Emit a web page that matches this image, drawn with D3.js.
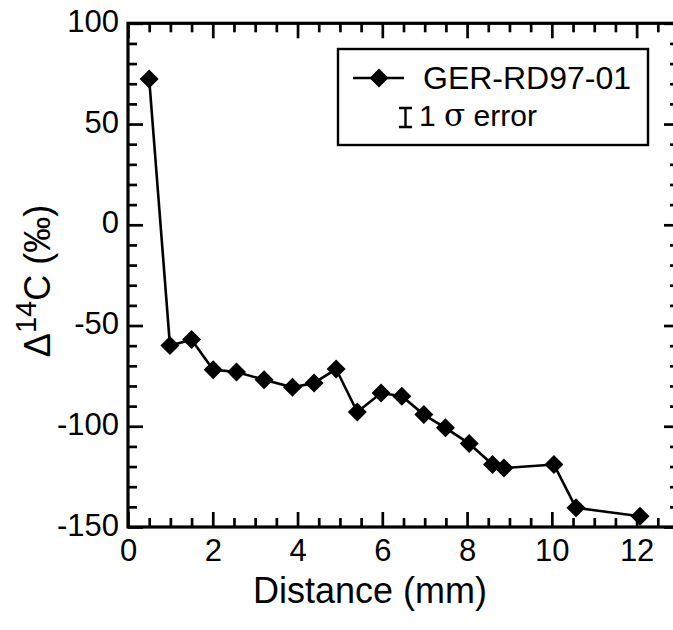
<!DOCTYPE html>
<html>
<head>
<meta charset="utf-8">
<script src="https://cdn.jsdelivr.net/npm/d3@7"></script>
<style>
  body { margin: 0; background: #fff; }
  svg { display: block; font-family: "Liberation Sans", Arial, Helvetica, sans-serif; }
</style>
</head>
<body>
<div id="chart"></div>
<script>
// sample GER-RD97-01
const distance = [0.5, 0.99, 1.5, 2.01, 2.56, 3.21, 3.88, 4.39, 4.91, 5.41,
                  5.97, 6.46, 6.98, 7.49, 8.05, 8.6, 8.87, 10.05, 10.57, 12.08];
const delta14C = [72.3, -59.9, -57.0, -71.9, -73.1, -76.9, -80.7, -78.5, -71.6, -92.9,
                  -83.5, -85.1, -94.2, -100.8, -108.6, -119.0, -120.7, -119.0, -140.5, -144.7];

const xMajor = [0, 2, 4, 6, 8, 10, 12];
const yMajor = [100, 50, 0, -50, -100, -150];
const seriesName = "GER-RD97-01";

const width = 673, height = 630;
const margin = { left: 128, top: 23.3, right: -6, bottom: 103 };

const svg = d3.select("#chart").append("svg")
    .attr("width", width)
    .attr("height", height);

const x = d3.scaleLinear().domain([0, 13]).range([margin.left, width - margin.right]);
const y = d3.scaleLinear().domain([-150, 100]).range([height - margin.bottom, margin.top]);

const xMinor = d3.range(0, 13.01, 0.5).filter(v => v % 2 !== 0);
const yMinor = d3.range(-150, 100.1, 10).filter(v => v % 50 !== 0);

// ticks, all pointing inwards
function tickStyle(g) {
  g.select(".domain").remove();
  g.selectAll(".tick line").attr("stroke", "#000").attr("stroke-width", 2.7);
  g.selectAll(".tick text")
    .attr("fill", "#000")
    .style("font-size", "31px");
}

const majorLen = 15, minorLen = 9;
const plain = d => String(d);   // hyphen minus like the original

svg.append("g").attr("transform", `translate(0,${y(-150)})`)
  .call(d3.axisBottom(x).tickValues(xMajor).tickFormat(plain).tickSizeInner(-majorLen).tickSizeOuter(0).tickPadding(12))
  .call(tickStyle);
svg.append("g").attr("transform", `translate(0,${y(-150)})`)
  .call(d3.axisBottom(x).tickValues(xMinor).tickSizeInner(-minorLen).tickSizeOuter(0).tickFormat(""))
  .call(tickStyle);

svg.append("g").attr("transform", `translate(0,${y(100)})`)
  .call(d3.axisTop(x).tickValues(xMajor).tickSizeInner(-majorLen).tickSizeOuter(0).tickFormat(""))
  .call(tickStyle);
svg.append("g").attr("transform", `translate(0,${y(100)})`)
  .call(d3.axisTop(x).tickValues(xMinor).tickSizeInner(-minorLen).tickSizeOuter(0).tickFormat(""))
  .call(tickStyle);

svg.append("g").attr("transform", `translate(${x(0)},0)`)
  .call(d3.axisLeft(y).tickValues(yMajor).tickFormat(plain).tickSizeInner(-majorLen).tickSizeOuter(0).tickPadding(9))
  .call(tickStyle)
  .call(g => g.selectAll(".tick text").attr("dy", "0.26em"));
svg.append("g").attr("transform", `translate(${x(0)},0)`)
  .call(d3.axisLeft(y).tickValues(yMinor).tickSizeInner(-minorLen).tickSizeOuter(0).tickFormat(""))
  .call(tickStyle);

svg.append("g").attr("transform", `translate(${x(13)},0)`)
  .call(d3.axisRight(y).tickValues(yMajor).tickSizeInner(-majorLen).tickSizeOuter(0).tickFormat(""))
  .call(tickStyle);
svg.append("g").attr("transform", `translate(${x(13)},0)`)
  .call(d3.axisRight(y).tickValues(yMinor).tickSizeInner(-minorLen).tickSizeOuter(0).tickFormat(""))
  .call(tickStyle);

// frame
svg.append("rect")
  .attr("x", x(0)).attr("y", y(100))
  .attr("width", x(13) - x(0)).attr("height", y(-150) - y(100))
  .attr("fill", "none").attr("stroke", "#000").attr("stroke-width", 3.2);

// data
const pts = distance.map((d, i) => ({ x: d, y: delta14C[i] }));
const diamond = "M0,-9.5L9.5,0L0,9.5L-9.5,0Z";

svg.append("path")
  .datum(pts)
  .attr("fill", "none")
  .attr("stroke", "#000")
  .attr("stroke-width", 2.6)
  .attr("d", d3.line().x(d => x(d.x)).y(d => y(d.y)));

svg.append("g").selectAll("path")
  .data(pts)
  .join("path")
    .attr("d", diamond)
    .attr("transform", d => `translate(${x(d.x)},${y(d.y)})`)
    .attr("fill", "#000");

// axis titles
svg.append("text")
  .attr("x", 370)
  .attr("y", 603)
  .attr("text-anchor", "middle")
  .style("font-size", "36px")
  .text("Distance (mm)");

const yTitle = svg.append("text")
  .attr("transform", "translate(50,281)rotate(-90)")
  .attr("text-anchor", "middle")
  .style("font-size", "36px");
yTitle.append("tspan").text("\u0394");
yTitle.append("tspan").attr("dy", -14).style("font-size", "29px").text("14");
yTitle.append("tspan").attr("dy", 14).text("C (\u2030)");

// legend
const lg = svg.append("g");
lg.append("rect")
  .attr("x", 338).attr("y", 49).attr("width", 310).attr("height", 96)
  .attr("fill", "#fff").attr("stroke", "#000").attr("stroke-width", 2.4);
lg.append("line")
  .attr("x1", 353).attr("x2", 404).attr("y1", 78).attr("y2", 78)
  .attr("stroke", "#000").attr("stroke-width", 2.6);
lg.append("path").attr("d", diamond).attr("transform", "translate(379,78)").attr("fill", "#000");
lg.append("text").attr("x", 423).attr("y", 89).style("font-size", "32px").text(seriesName);

// error bar glyph
lg.append("path")
  .attr("d", "M399,108H412M405.5,108V127M399,127H412")
  .attr("fill", "none").attr("stroke", "#000").attr("stroke-width", 2.4);
const errText = lg.append("text").attr("x", 419).attr("y", 126).style("font-size", "30px");
errText.append("tspan").text("1 ");
errText.append("tspan").style("font-family", "'DejaVu Serif', 'Liberation Serif', serif").style("font-size", "31px").text("\u03c3");
errText.append("tspan").text(" error");
</script>
</body>
</html>
